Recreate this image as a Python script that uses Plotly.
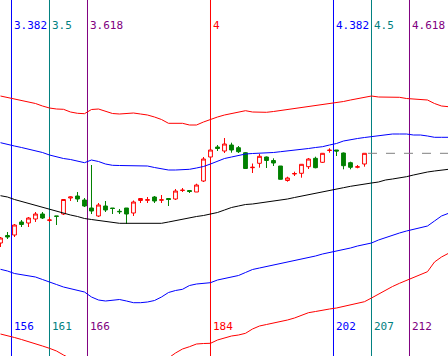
import plotly.graph_objects as go

# ---- data (price units) ----
bars = list(range(154, 207))
opens = [15.7, 16.45, 16.5, 17.8, 17.7, 18.1, 18.6, 17.97, 18.4, 18.6,
         20.2, 20.4, 20.0, 19.2, 18.4, 19.4, 19.2, 18.87, 19.2, 18.7,
         19.95, 19.97, 20.3, 19.98, 20.15, 20.1, 20.95, 20.95, 20.8, 21.9,
         24.3, 25.3, 24.9, 25.5, 25.23, 24.73, 23.23, 23.67, 24.3, 23.95,
         23.4, 21.95, 22.6, 22.67, 23.33, 24.17, 23.77, 24.95, 25.0, 24.7,
         23.73, 23.28, 23.6]
highs = [16.3, 16.8, 17.6, 18.0, 18.3, 18.8, 18.8, 18.3, 18.4, 20.1,
         20.35, 20.8, 20.2, 23.5, 19.7, 19.9, 19.2, 19.1, 19.2, 19.95,
         20.2, 20.3, 20.4, 20.5, 20.15, 21.1, 21.2, 20.97, 21.63, 24.3,
         25.2, 25.5, 26.2, 25.73, 25.4, 24.8, 23.65, 24.6, 24.35, 24.17,
         23.4, 22.33, 22.83, 23.6, 24.2, 24.33, 24.7, 25.17, 25.0, 24.75,
         23.83, 23.5, 24.67]
lows = [15.3, 16.1, 16.3, 17.3, 17.3, 17.8, 18.1, 17.8, 17.5, 18.5,
        19.9, 19.8, 19.3, 18.6, 18.3, 18.8, 18.6, 18.6, 17.6, 18.4,
        19.7, 19.7, 19.7, 19.7, 19.4, 20.0, 20.8, 20.7, 20.8, 21.8,
        24.2, 24.9, 24.7, 24.73, 24.7, 23.1, 22.7, 23.23, 23.2, 23.4,
        22.05, 21.83, 22.4, 22.23, 23.1, 23.17, 23.7, 24.73, 24.4, 23.07,
        23.07, 23.17, 23.33]
closes = [16.2, 16.3, 17.5, 17.55, 18.2, 18.6, 18.2, 18.0, 18.37, 20.05,
          20.3, 20.1, 19.4, 18.9, 19.5, 19.0, 19.15, 18.83, 18.6, 19.8,
          20.15, 20.03, 19.9, 20.02, 20.05, 20.9, 20.98, 20.85, 21.5, 24.1,
          25.0, 25.15, 25.6, 25.0, 24.83, 23.15, 23.27, 24.37, 23.95, 23.7,
          22.07, 22.2, 22.65, 23.57, 24.1, 23.23, 24.67, 24.98, 24.9, 23.43,
          23.27, 23.32, 24.67]

band_x = list(range(154, 219))
red_upper = [30.4, 30.25, 30.1, 29.9, 29.75, 29.65, 29.4, 29.2, 29.1, 29.07,
             28.8, 28.67, 28.63, 29.05, 29.1, 28.85, 28.65, 28.6, 28.65, 28.7,
             28.6, 28.5, 28.3, 28.05, 27.67, 27.67, 27.67, 27.5, 27.5, 27.8,
             28.07, 28.3, 28.5, 28.65, 28.8, 28.93, 28.8, 28.77, 28.77, 28.85,
             28.95, 29.03, 29.1, 29.2, 29.3, 29.4, 29.5, 29.6, 29.7, 29.85,
             30.0, 30.15, 30.3, 30.4, 30.3, 30.27, 30.27, 30.27, 30.15, 30.1,
             30.05, 30.0, 29.65, 29.4, 29.33]
blue_upper = [25.73, 25.6, 25.4, 25.25, 25.1, 24.95, 24.75, 24.5, 24.3, 24.15,
              24.05, 23.9, 23.73, 24.0, 23.85, 23.6, 23.47, 23.45, 23.43, 23.4,
              23.4, 23.4, 23.25, 23.1, 23.0, 23.0, 23.0, 23.07, 23.2, 23.35,
              23.6, 23.9, 24.15, 24.3, 24.45, 24.6, 24.65, 24.67, 24.67, 24.75,
              24.83, 24.9, 24.95, 25.05, 25.15, 25.25, 25.33, 25.5, 25.65, 25.9,
              26.05, 26.15, 26.25, 26.35, 26.45, 26.55, 26.6, 26.6, 26.6, 26.5,
              26.5, 26.4, 26.27, 26.27, 26.27]
middle = [20.43, 20.3, 20.05, 19.85, 19.65, 19.45, 19.25, 19.07, 18.85, 18.65,
          18.5, 18.35, 18.15, 18.05, 17.95, 17.8, 17.7, 17.67, 17.67, 17.67,
          17.67, 17.67, 17.67, 17.67, 17.8, 17.95, 18.07, 18.2, 18.35, 18.45,
          18.57, 18.75, 19.0, 19.25, 19.4, 19.55, 19.6, 19.7, 19.8, 19.9,
          19.95, 20.1, 20.25, 20.4, 20.55, 20.7, 20.85, 20.97, 21.1, 21.23,
          21.37, 21.5, 21.6, 21.7, 21.8, 22.0, 22.1, 22.2, 22.33, 22.5,
          22.67, 22.8, 22.9, 23.0, 23.07]
blue_lower = [13.07, 12.9, 12.65, 12.55, 12.45, 12.3, 12.05, 11.77, 11.55, 11.3,
              11.15, 11.0, 10.8, 10.3, 10.0, 9.9, 10.0, 10.05, 9.9, 9.73,
              9.73, 9.8, 9.95, 10.3, 10.75, 10.95, 11.07, 11.45, 11.6, 11.65,
              11.73, 12.0, 12.15, 12.3, 12.45, 12.75, 13.05, 13.2, 13.35, 13.5,
              13.6, 13.75, 13.9, 14.1, 14.25, 14.4, 14.6, 14.75, 14.85, 15.0,
              15.2, 15.4, 15.55, 15.7, 16.0, 16.25, 16.5, 16.7, 16.9, 17.05,
              17.2, 17.4, 17.9, 18.4, 18.67]
red_lower = [6.6, 6.45, 6.25, 6.05, 5.85, 5.67, 5.4, 5.17, 4.9, 4.5,
             4.1, 3.8, 3.6, 3.2, 3.0, 2.9, 3.0, 3.0, 2.8, 2.7,
             2.7, 2.8, 3.0, 3.5, 4.2, 4.7, 5.1, 5.33, 5.6, 5.65,
             5.67, 6.0, 6.2, 6.4, 6.5, 6.67, 7.1, 7.4, 7.55, 7.7,
             7.8, 8.0, 8.2, 8.5, 8.73, 8.85, 9.0, 9.1, 9.2, 9.35,
             9.5, 9.65, 9.83, 10.2, 10.6, 11.0, 11.35, 11.67, 11.95, 12.2,
             12.55, 12.83, 13.8, 14.3, 14.67]

fib_ratios = [3.382, 3.5, 3.618, 4, 4.382, 4.5, 4.618]
fib_top_labels = ["3.382", "3.5", "3.618", "4", "4.382", "4.5", "4.618"]
fib_bottom_labels = ["156", "161", "166", "184", "202", "207", "212"]
fib_unit = 46
fib_colors = ["#0000FF", "#008080", "#800080", "#FF0000", "#0000FF", "#008080", "#800080"]

X_RANGE = [153.93, 217.93]
Y_RANGE = [4.4, 40.0]

fig = go.Figure()

for ys, col in [(red_upper, "#FF0000"), (blue_upper, "#0000FF"), (middle, "#000000"),
                (blue_lower, "#0000FF"), (red_lower, "#FF0000")]:
    fig.add_trace(go.Scatter(x=band_x, y=ys, mode="lines",
                             line=dict(color=col, width=1), hoverinfo="skip"))

# fib time lines
for r, col in zip(fib_ratios, fib_colors):
    fig.add_shape(type="line", xref="x", yref="paper", x0=r * fib_unit, x1=r * fib_unit,
                  y0=0, y1=1, line=dict(color=col, width=1), layer="below")

# last-close dashed line
fig.add_trace(go.Scatter(x=[bars[-1] + 0.5, X_RANGE[1]], y=[closes[-1], closes[-1]],
                         mode="lines", line=dict(color="#808080", width=1, dash="dash"),
                         hoverinfo="skip"))

fig.add_trace(go.Candlestick(
    x=bars, open=opens, high=highs, low=lows, close=closes,
    increasing=dict(line=dict(color="#FF0000", width=1), fillcolor="#FFFFFF"),
    decreasing=dict(line=dict(color="#008000", width=1), fillcolor="#008000"),
    whiskerwidth=0, hoverinfo="skip"))

for r, col, tl, bl in zip(fib_ratios, fib_colors, fib_top_labels, fib_bottom_labels):
    fig.add_annotation(x=r * fib_unit, y=1 - 25 / 356, xref="x", yref="paper",
                       text=tl, showarrow=False, xanchor="left", yanchor="middle",
                       xshift=1, font=dict(family="DejaVu Sans Mono", size=11, color=col))
    fig.add_annotation(x=r * fib_unit, y=1 - 326 / 356, xref="x", yref="paper",
                       text=bl, showarrow=False, xanchor="left", yanchor="middle",
                       xshift=1, font=dict(family="DejaVu Sans Mono", size=11, color=col))

fig.update_layout(
    width=448, height=356, margin=dict(l=0, r=0, t=0, b=0),
    paper_bgcolor="white", plot_bgcolor="white", showlegend=False,
    boxgap=0.22, hovermode=False,
    xaxis=dict(range=X_RANGE, visible=False, showgrid=False, rangeslider=dict(visible=False)),
    yaxis=dict(range=Y_RANGE, visible=False, showgrid=False),
)

fig.write_html("out.html", config={"displayModeBar": False, "staticPlot": True},
               post_script="document.body.style.margin='0';document.body.style.overflow='hidden';")
